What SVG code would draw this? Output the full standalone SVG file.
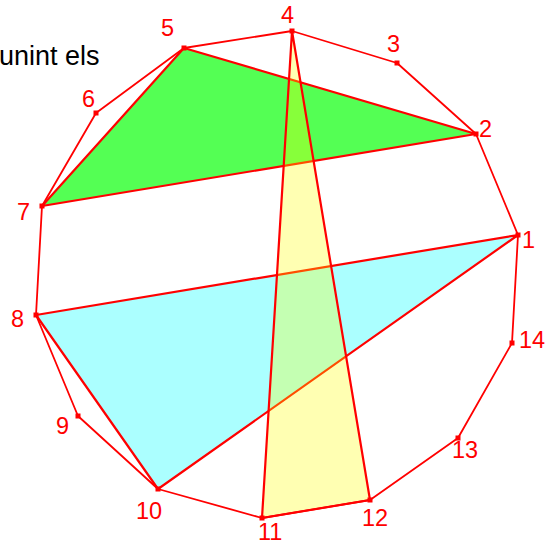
<svg xmlns="http://www.w3.org/2000/svg" width="551" height="544" viewBox="0 0 551 544">
<style>
.edge{fill:none;stroke:#ff0000;stroke-width:1.8;stroke-linejoin:round}
.tri{stroke:#ff0000;stroke-width:2.2;stroke-linejoin:round}
.pt{fill:#ff0000}
.lbl{font-family:"Liberation Sans",Arial,sans-serif;font-size:23.5px;fill:#ff0000}
.title{font-family:"Liberation Sans",Arial,sans-serif;font-size:27px;fill:#000000}
</style>
<rect width="551" height="544" fill="#ffffff"/>
<text class="title" x="-1" y="65">unint els</text>
<g id="triangles">
<polygon id="tri-green" class="tri" points="476,134 184,48 42,206" fill="#00ff00" fill-opacity="0.67"/>
<polygon id="tri-cyan" class="tri" points="518,235 36,315 158,489" fill="#00ffff" fill-opacity="0.33"/>
<polygon id="tri-yellow" class="tri" points="292,31 262,518 370,500" fill="#ffff00" fill-opacity="0.3"/>
</g>
<g id="connectors">
<polygon class="edge" points="518,235 476,134 397,63 292,31 184,48 96,113 42,206 36,315 78,416 158,489 262,518 370,500 458,438 512,343"/>
</g>
<g id="n1"><rect class="pt" x="515.5" y="232.5" width="5" height="5"/><text class="lbl" x="522" y="248">1</text></g>
<g id="n2"><rect class="pt" x="473.5" y="131.5" width="5" height="5"/><text class="lbl" x="479" y="137">2</text></g>
<g id="n3"><rect class="pt" x="394.5" y="60.5" width="5" height="5"/><text class="lbl" x="387" y="52">3</text></g>
<g id="n4"><rect class="pt" x="289.5" y="28.5" width="5" height="5"/><text class="lbl" x="281" y="23">4</text></g>
<g id="n5"><rect class="pt" x="181.5" y="45.5" width="5" height="5"/><text class="lbl" x="161" y="36">5</text></g>
<g id="n6"><rect class="pt" x="93.5" y="110.5" width="5" height="5"/><text class="lbl" x="82" y="107">6</text></g>
<g id="n7"><rect class="pt" x="39.5" y="203.5" width="5" height="5"/><text class="lbl" x="17" y="220">7</text></g>
<g id="n8"><rect class="pt" x="33.5" y="312.5" width="5" height="5"/><text class="lbl" x="11" y="327">8</text></g>
<g id="n9"><rect class="pt" x="75.5" y="413.5" width="5" height="5"/><text class="lbl" x="56" y="434">9</text></g>
<g id="n10"><rect class="pt" x="155.5" y="486.5" width="5" height="5"/><text class="lbl" x="136" y="519">10</text></g>
<g id="n11"><rect class="pt" x="259.5" y="515.5" width="5" height="5"/><text class="lbl" x="258" y="540">11</text></g>
<g id="n12"><rect class="pt" x="367.5" y="497.5" width="5" height="5"/><text class="lbl" x="362" y="526">12</text></g>
<g id="n13"><rect class="pt" x="455.5" y="435.5" width="5" height="5"/><text class="lbl" x="452" y="458">13</text></g>
<g id="n14"><rect class="pt" x="509.5" y="340.5" width="5" height="5"/><text class="lbl" x="519" y="348">14</text></g>
</svg>
